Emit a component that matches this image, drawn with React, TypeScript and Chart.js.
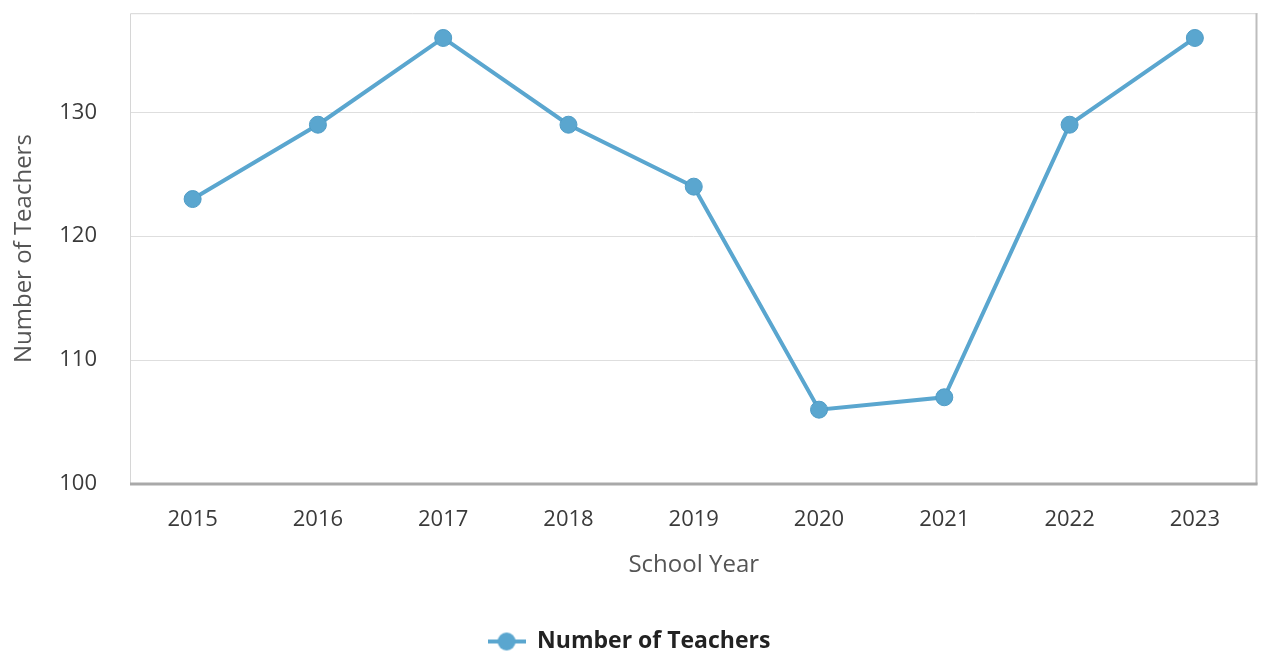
import React, { useEffect, useRef } from "react";
import { Chart, registerables } from "chart.js";

Chart.register(...registerables);

const years = ["2015", "2016", "2017", "2018", "2019", "2020", "2021", "2022", "2023"];
const teachers = [123, 129, 136, 129, 124, 106, 107, 129, 136];
const yTicks = [100, 110, 120, 130];

const LINE_COLOR = "#5aa6cf";

const borderPlugin = {
  id: "areaBorder",
  afterDraw(chart: any) {
    const { ctx, chartArea } = chart;
    const { left, right, top, bottom } = chartArea;
    ctx.save();
    ctx.strokeStyle = "#d6d6d6";
    ctx.lineWidth = 1;
    ctx.beginPath();
    ctx.moveTo(left + 0.5, bottom);
    ctx.lineTo(left + 0.5, top + 0.5);
    ctx.lineTo(right, top + 0.5);
    ctx.stroke();
    ctx.strokeStyle = "#bdbdbd";
    ctx.lineWidth = 2;
    ctx.beginPath();
    ctx.moveTo(right - 1, top);
    ctx.lineTo(right - 1, bottom);
    ctx.stroke();
    ctx.strokeStyle = "#a9a9a9";
    ctx.lineWidth = 3;
    ctx.beginPath();
    ctx.moveTo(left, bottom);
    ctx.lineTo(right, bottom);
    ctx.stroke();
    ctx.restore();
  },
};

function makeLegendIcon() {
  const c = document.createElement("canvas");
  c.width = 38;
  c.height = 20;
  const g = c.getContext("2d")!;
  g.strokeStyle = LINE_COLOR;
  g.lineWidth = 4;
  g.beginPath();
  g.moveTo(0, 10);
  g.lineTo(38, 10);
  g.stroke();
  g.fillStyle = LINE_COLOR;
  g.beginPath();
  g.arc(19, 10, 9, 0, Math.PI * 2);
  g.fill();
  return c;
}

export default function App() {
  const ref = useRef<HTMLCanvasElement | null>(null);

  useEffect(() => {
    if (!ref.current) return;
    const icon = makeLegendIcon();
    const chart = new Chart(ref.current, {
      type: "line",
      data: {
        labels: years,
        datasets: [
          {
            label: "Number of Teachers",
            data: teachers,
            borderColor: LINE_COLOR,
            backgroundColor: LINE_COLOR,
            borderWidth: 4,
            pointRadius: 8.5,
            pointBorderWidth: 1,
            pointBorderColor: "#4f9cc6",
            pointBackgroundColor: LINE_COLOR,
            tension: 0,
          },
        ],
      },
      options: {
        animation: false,
        responsive: true,
        maintainAspectRatio: false,
        layout: { padding: { top: 11, right: 9, bottom: -3, left: 0 } },
        plugins: {
          tooltip: { enabled: false },
          legend: {
            position: "bottom",
            labels: {
              usePointStyle: true,
              pointStyleWidth: 38,
              color: "#222",
              font: { family: "'Open Sans'", size: 23, weight: "bold" },
              padding: 10,
              generateLabels: (ch: any) =>
                ch.data.datasets.map((ds: any, i: number) => ({
                  text: ds.label,
                  pointStyle: icon,
                  fillStyle: LINE_COLOR,
                  strokeStyle: LINE_COLOR,
                  lineWidth: 0,
                  hidden: false,
                  datasetIndex: i,
                  fontColor: "#222",
                })),
            },
          },
        },
        scales: {
          x: {
            offset: true,
            afterFit: (scale: any) => {
              scale.height = 136;
            },
            grid: { display: false, drawTicks: false },
            border: { display: false },
            ticks: {
              padding: 23,
              color: "#3a3a3a",
              font: { family: "'Open Sans'", size: 22 },
              maxRotation: 0,
            },
            title: {
              display: true,
              text: "School Year",
              color: "#555",
              font: { family: "'Open Sans'", size: 24 },
              padding: { top: 17, bottom: 40 },
            },
          },
          y: {
            min: 100,
            max: 138,
            afterFit: (scale: any) => {
              scale.width = 130;
            },
            afterBuildTicks: (scale: any) => {
              scale.ticks = yTicks.map((v) => ({ value: v }));
            },
            grid: {
              color: "#dedede",
              lineWidth: 1,
              drawTicks: true,
              tickLength: 33,
              tickColor: "rgba(0,0,0,0)",
            },
            border: { display: false },
            ticks: {
              padding: 0,
              color: "#3a3a3a",
              font: { family: "'Open Sans'", size: 22 },
            },
            title: {
              display: true,
              text: "Number of Teachers",
              color: "#555",
              font: { family: "'Open Sans'", size: 24 },
              padding: { top: 10 },
            },
          },
        },
      },
      plugins: [borderPlugin],
    });
    return () => chart.destroy();
  }, []);

  return (
    <div style={{ position: "absolute", left: 0, top: 0, width: 1267, height: 660, background: "#fff" }}>
      <canvas ref={ref} />
    </div>
  );
}
